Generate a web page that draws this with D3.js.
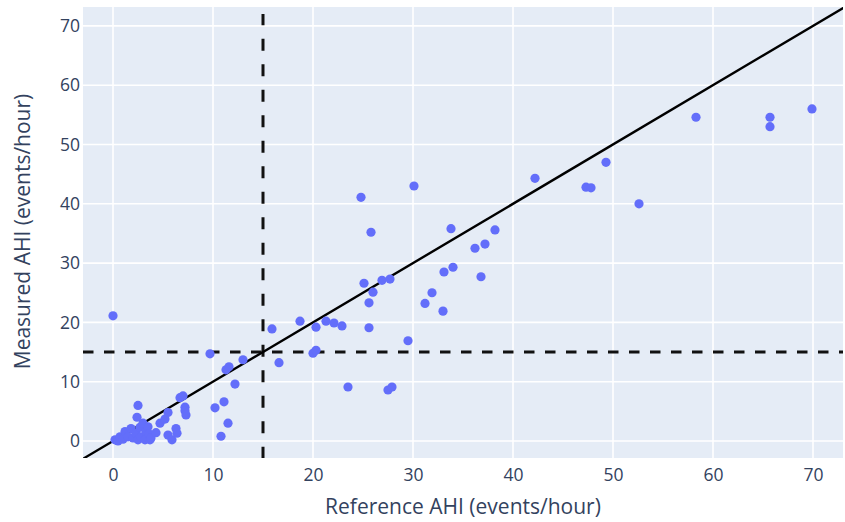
<!DOCTYPE html>
<html>
<head>
<meta charset="utf-8">
<script src="https://cdn.jsdelivr.net/npm/d3@7"></script>
<style>
  body { margin: 0; background: #fff; }
  svg { display: block; font-family: "Open Sans", "DejaVu Sans", sans-serif; }
</style>
</head>
<body>
<div id="chart"></div>
<script>
// reference vs measured AHI
let refAHI = [
  0.0, 0.2, 0.5, 0.7, 1.0, 1.2, 1.5, 1.8, 2.0, 2.3, 2.4, 2.5, 2.5, 2.7, 2.8,
  3.0, 3.2, 3.3, 3.5, 3.6, 3.7, 3.8, 4.3, 4.7, 5.2, 5.5, 5.5, 5.9, 6.3, 6.4,
  6.7, 7.0, 7.2, 7.2, 7.3,
  9.7, 10.2, 10.8, 11.1, 11.3, 11.5, 11.6, 12.2, 13.0,
  15.9, 16.6, 18.7, 20.0, 20.3, 20.3, 21.3, 22.1, 22.9, 23.5,
  24.8, 25.1, 25.6, 25.6, 25.8, 26.0, 26.9, 27.5, 27.7, 27.9, 29.5,
  30.1, 31.2, 31.9, 33.0, 33.1, 33.8, 34.0, 36.2, 36.8, 37.2, 38.2,
  42.2, 47.3, 47.8, 49.3, 52.6, 58.3, 65.7, 65.7, 69.9
];
let measAHI = [
  21.1, 0.2, 0.0, 0.7, 0.3, 1.6, 0.7, 2.1, 0.5, 1.3, 4.0, 6.0, 0.2, 2.3, 0.7,
  3.0, 0.2, 1.6, 2.4, 1.2, 0.2, 0.5, 1.4, 3.0, 3.7, 4.8, 1.0, 0.2, 2.1, 1.3,
  7.3, 7.6, 5.7, 5.1, 4.4,
  14.7, 5.6, 0.8, 6.6, 12.0, 3.0, 12.5, 9.6, 13.7,
  18.9, 13.2, 20.2, 14.8, 15.3, 19.2, 20.2, 19.9, 19.4, 9.1,
  41.1, 26.6, 19.1, 23.3, 35.2, 25.1, 27.1, 8.6, 27.3, 9.1, 16.9,
  43.0, 23.2, 25.0, 21.9, 28.5, 35.8, 29.3, 32.5, 27.7, 33.2, 35.6,
  44.3, 42.8, 42.7, 47.0, 40.0, 54.6, 54.6, 53.0, 56.0
];
let xTicks = [0, 10, 20, 30, 40, 50, 60, 70];
let yTicks = [0, 10, 20, 30, 40, 50, 60, 70];
let cutoff = 15;
let identity = [-3, 73.2];

let width = 845;
let height = 522;
let margin = { top: 7, right: 2, bottom: 64, left: 83 };

let x = d3.scaleLinear()
          .domain([-3, 73])
          .range([margin.left, width - margin.right]);
let y = d3.scaleLinear()
          .domain([-2.87, 73.19])
          .range([height - margin.bottom, margin.top]);

let svg = d3.select("#chart")
            .append("svg")
            .attr("width", width)
            .attr("height", height);

// plot background
svg.append("rect")
   .attr("x", x.range()[0])
   .attr("y", y.range()[1])
   .attr("width", x.range()[1] - x.range()[0])
   .attr("height", y.range()[0] - y.range()[1])
   .style("fill", "#e5ecf6");

svg.append("clipPath").attr("id", "plot-clip")
  .append("rect")
  .attr("x", x.range()[0])
  .attr("y", y.range()[1])
  .attr("width", x.range()[1] - x.range()[0])
  .attr("height", y.range()[0] - y.range()[1]);

// grid
svg.append("g")
   .selectAll("line")
   .data(xTicks)
   .enter()
   .append("line")
   .attr("x1", d => x(d)).attr("x2", d => x(d))
   .attr("y1", y.range()[0]).attr("y2", y.range()[1])
   .style("stroke", "#fff")
   .style("stroke-width", 1.6);

svg.append("g")
   .selectAll("line")
   .data(yTicks)
   .enter()
   .append("line")
   .attr("y1", d => y(d)).attr("y2", d => y(d))
   .attr("x1", x.range()[0]).attr("x2", x.range()[1])
   .style("stroke", "#fff")
   .style("stroke-width", 1.6);

// axes (labels only, plotly style)
let xAxis = svg.append("g")
   .attr("transform", "translate(0," + (y.range()[0] + 5) + ")")
   .call(d3.axisBottom(x).tickValues(xTicks).tickSize(0).tickPadding(6));
let yAxis = svg.append("g")
   .attr("transform", "translate(" + (x.range()[0] - 3) + ",0)")
   .call(d3.axisLeft(y).tickValues(yTicks).tickSize(0).tickPadding(0));
[xAxis, yAxis].forEach(function(g) {
  g.select(".domain").remove();
  g.selectAll("text")
   .style("font-size", "17.5px")
   .style("fill", "#33425e")
   .style("font-family", "'Open Sans', 'DejaVu Sans', sans-serif");
});

let plot = svg.append("g").attr("clip-path", "url(#plot-clip)");

// cutoff lines
plot.append("line")
    .attr("x1", x(cutoff)).attr("x2", x(cutoff))
    .attr("y1", y(-3)).attr("y2", y(72))
    .style("stroke", "#111")
    .style("stroke-width", 3)
    .style("stroke-dasharray", "12,13.5");
plot.append("line")
    .attr("x1", x(-3)).attr("x2", x(73))
    .attr("y1", y(cutoff)).attr("y2", y(cutoff))
    .style("stroke", "#111")
    .style("stroke-width", 3)
    .style("stroke-dasharray", "10.5,10.5");

// identity line
plot.append("line")
    .attr("x1", x(identity[0])).attr("y1", y(identity[0]))
    .attr("x2", x(identity[1])).attr("y2", y(identity[1]))
    .style("stroke", "#000")
    .style("stroke-width", 2.4);

// points
plot.selectAll("circle")
    .data(refAHI.map((d, i) => [d, measAHI[i]]))
    .enter()
    .append("circle")
    .attr("cx", d => x(d[0]))
    .attr("cy", d => y(d[1]))
    .attr("r", 4.6)
    .style("fill", "#636efa");

// axis titles
svg.append("text")
   .attr("x", (x.range()[0] + x.range()[1]) / 2)
   .attr("y", 514)
   .attr("text-anchor", "middle")
   .style("font-size", "21px")
   .style("fill", "#33425e")
   .text("Reference AHI (events/hour)");
svg.append("text")
   .attr("transform", "translate(30," + ((y.range()[0] + y.range()[1]) / 2 - 1) + ") rotate(-90)")
   .attr("text-anchor", "middle")
   .style("font-size", "21px")
   .style("fill", "#33425e")
   .text("Measured AHI (events/hour)");
</script>
</body>
</html>
